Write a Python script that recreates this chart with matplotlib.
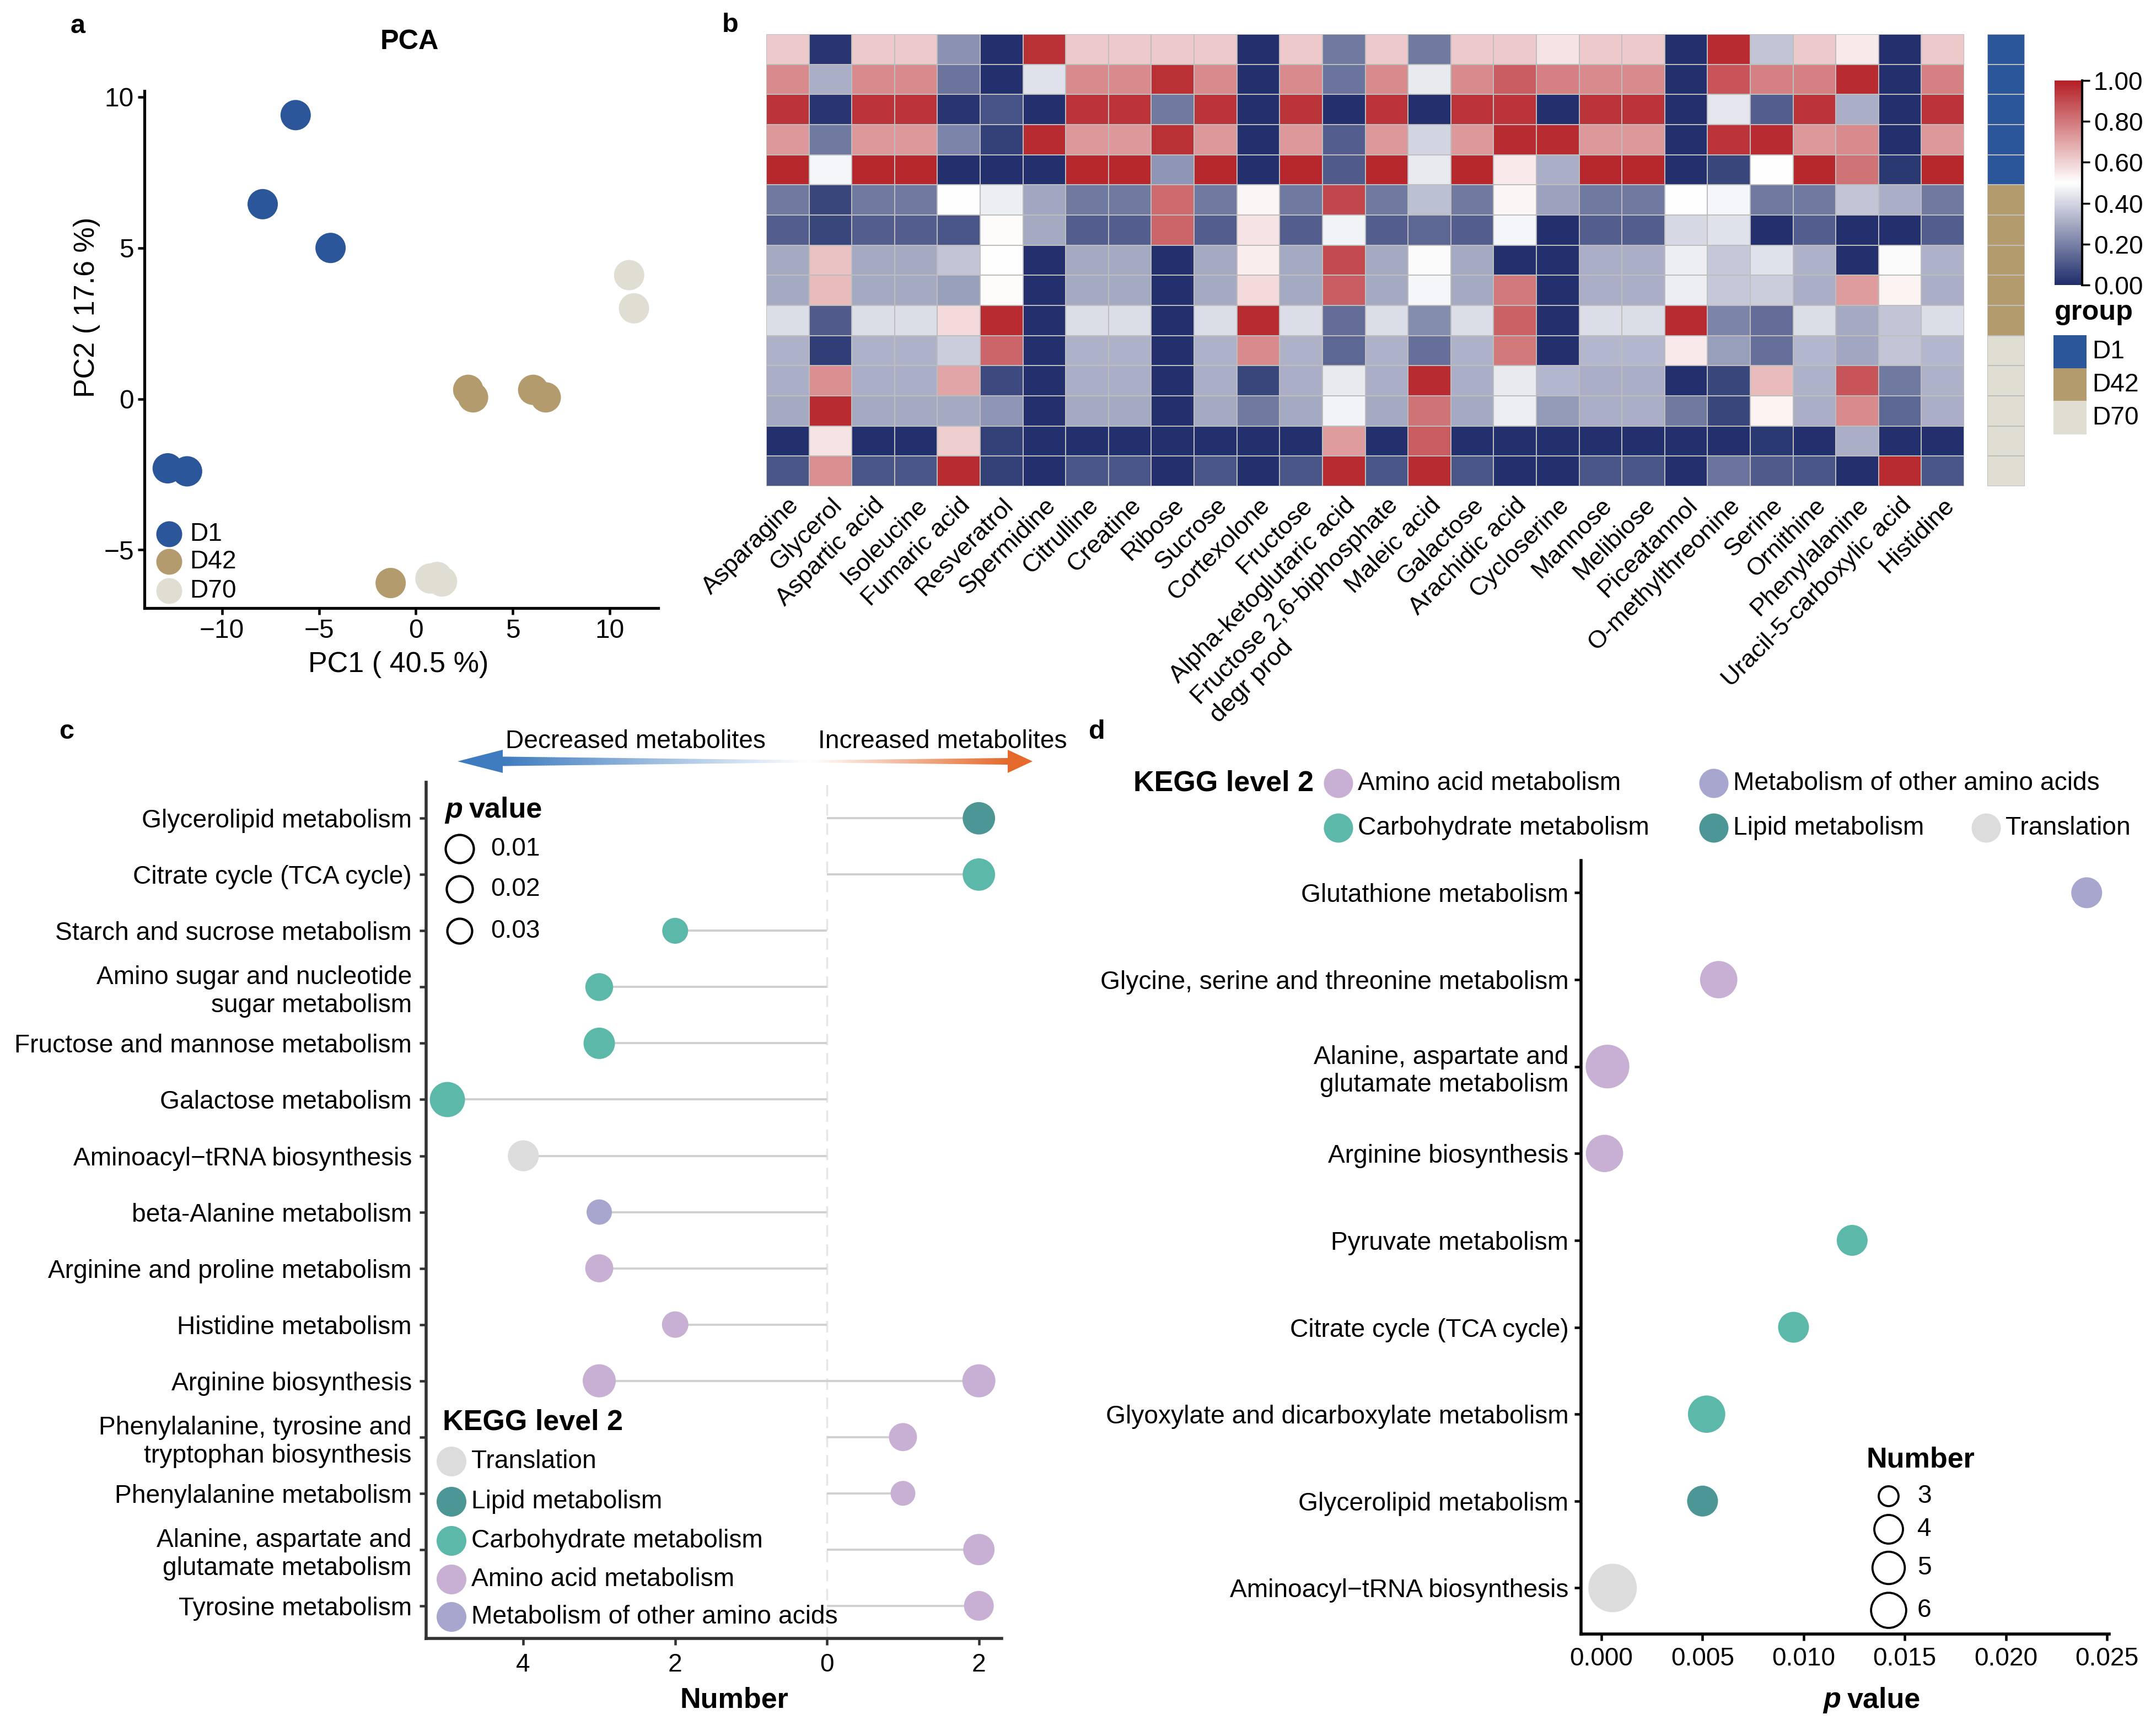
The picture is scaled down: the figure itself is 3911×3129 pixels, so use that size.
import numpy as np
import matplotlib
matplotlib.use("Agg")
from matplotlib import pyplot as plt
from matplotlib.colors import LinearSegmentedColormap, ListedColormap
from matplotlib.patches import Polygon, Rectangle
from matplotlib.ticker import FuncFormatter

plt.rcParams['font.family'] = ['Liberation Sans', 'DejaVu Sans']
plt.rcParams['font.size'] = 13

W, H = 3911, 3129
DPI = 250
FS = 13.3  # base text size

# ---------------- panel a: PCA ----------------
pca_group = ["D1"] * 5 + ["D42"] * 5 + ["D70"] * 5
pc1 = [-6.2, -7.9, -4.4, -12.8, -11.8, 2.7, 2.95, 6.05, 6.7, -1.3, 11.0, 11.25, 0.75, 1.1, 1.35]
pc2 = [9.4, 6.45, 5.0, -2.3, -2.4, 0.3, 0.05, 0.3, 0.05, -6.1, 4.1, 3.0, -5.95, -5.9, -6.05]
groups = ["D1", "D42", "D70"]
group_colors = {"D1": "#2b579a", "D42": "#b39b6e", "D70": "#e0ddd2"}

# ---------------- panel b: heatmap ----------------
metabolites = ["Asparagine", "Glycerol", "Aspartic acid", "Isoleucine", "Fumaric acid",
               "Resveratrol", "Spermidine", "Citrulline", "Creatine", "Ribose", "Sucrose",
               "Cortexolone", "Fructose", "Alpha-ketoglutaric acid",
               "Fructose 2,6-biphosphate\ndegr prod", "Maleic acid", "Galactose",
               "Arachidic acid", "Cycloserine", "Mannose", "Melibiose", "Piceatannol",
               "O-methylthreonine", "Serine", "Ornithine", "Phenylalanine",
               "Uracil-5-carboxylic acid", "Histidine"]
# one list per metabolite, samples D1 x5, D42 x5, D70 x5 (top to bottom)
heat = {
    "Asparagine":   [0.62, 0.76, 0.95, 0.73, 0.98, 0.18, 0.12, 0.30, 0.30, 0.42, 0.32, 0.31, 0.30, 0.01, 0.10],
    "Glycerol":     [0.02, 0.31, 0.02, 0.18, 0.48, 0.06, 0.06, 0.64, 0.65, 0.11, 0.04, 0.75, 0.97, 0.56, 0.75],
    "Aspartic acid": [0.62, 0.76, 0.95, 0.73, 0.98, 0.18, 0.12, 0.30, 0.30, 0.42, 0.32, 0.31, 0.30, 0.01, 0.10],
    "Isoleucine":   [0.62, 0.76, 0.95, 0.73, 0.98, 0.18, 0.12, 0.30, 0.30, 0.42, 0.32, 0.31, 0.30, 0.01, 0.10],
    "Fumaric acid": [0.24, 0.17, 0.02, 0.21, 0.01, 0.50, 0.10, 0.36, 0.27, 0.58, 0.38, 0.70, 0.30, 0.61, 0.97],
    "Resveratrol":  [0.01, 0.01, 0.09, 0.05, 0.01, 0.46, 0.51, 0.50, 0.51, 0.97, 0.84, 0.07, 0.25, 0.05, 0.05],
    "Spermidine":   [0.96, 0.43, 0.01, 0.97, 0.01, 0.29, 0.30, 0.01, 0.01, 0.01, 0.01, 0.01, 0.01, 0.01, 0.01],
    "Citrulline":   [0.62, 0.76, 0.95, 0.73, 0.98, 0.18, 0.12, 0.30, 0.30, 0.42, 0.32, 0.31, 0.30, 0.01, 0.10],
    "Creatine":     [0.62, 0.76, 0.95, 0.73, 0.98, 0.18, 0.12, 0.30, 0.30, 0.42, 0.32, 0.31, 0.30, 0.01, 0.10],
    "Ribose":       [0.62, 0.96, 0.18, 0.96, 0.25, 0.83, 0.84, 0.01, 0.01, 0.01, 0.01, 0.01, 0.01, 0.01, 0.01],
    "Sucrose":      [0.62, 0.76, 0.95, 0.73, 0.98, 0.18, 0.12, 0.30, 0.30, 0.42, 0.32, 0.31, 0.30, 0.01, 0.10],
    "Cortexolone":  [0.01, 0.01, 0.01, 0.01, 0.01, 0.52, 0.56, 0.54, 0.58, 0.97, 0.76, 0.06, 0.18, 0.01, 0.01],
    "Fructose":     [0.62, 0.76, 0.95, 0.73, 0.98, 0.18, 0.12, 0.30, 0.30, 0.42, 0.32, 0.31, 0.30, 0.01, 0.10],
    "Alpha-ketoglutaric acid": [0.18, 0.17, 0.01, 0.12, 0.11, 0.91, 0.47, 0.90, 0.86, 0.15, 0.14, 0.45, 0.47, 0.72, 0.97],
    "Fructose 2,6-biphosphate\ndegr prod": [0.62, 0.76, 0.95, 0.73, 0.98, 0.18, 0.12, 0.30, 0.30, 0.42, 0.32, 0.31, 0.30, 0.01, 0.10],
    "Maleic acid":  [0.18, 0.45, 0.01, 0.40, 0.45, 0.35, 0.14, 0.49, 0.48, 0.23, 0.16, 0.97, 0.81, 0.86, 0.97],
    "Galactose":    [0.62, 0.76, 0.95, 0.73, 0.98, 0.18, 0.12, 0.30, 0.30, 0.42, 0.32, 0.31, 0.30, 0.01, 0.10],
    "Arachidic acid": [0.62, 0.86, 0.95, 0.97, 0.55, 0.52, 0.48, 0.01, 0.80, 0.85, 0.80, 0.45, 0.46, 0.01, 0.01],
    "Cycloserine":  [0.56, 0.78, 0.01, 0.97, 0.31, 0.28, 0.01, 0.01, 0.01, 0.01, 0.01, 0.33, 0.26, 0.01, 0.01],
    "Mannose":      [0.62, 0.76, 0.95, 0.73, 0.98, 0.18, 0.12, 0.31, 0.31, 0.42, 0.33, 0.31, 0.31, 0.01, 0.10],
    "Melibiose":    [0.62, 0.76, 0.95, 0.73, 0.98, 0.18, 0.12, 0.31, 0.31, 0.42, 0.33, 0.31, 0.31, 0.01, 0.10],
    "Piceatannol":  [0.01, 0.01, 0.01, 0.01, 0.01, 0.50, 0.41, 0.46, 0.46, 0.97, 0.55, 0.01, 0.18, 0.01, 0.01],
    "O-methylthreonine": [0.97, 0.88, 0.44, 0.95, 0.06, 0.48, 0.43, 0.37, 0.37, 0.21, 0.27, 0.06, 0.06, 0.01, 0.17],
    "Serine":       [0.36, 0.78, 0.12, 0.97, 0.50, 0.18, 0.01, 0.43, 0.38, 0.15, 0.16, 0.65, 0.53, 0.03, 0.11],
    "Ornithine":    [0.62, 0.78, 0.95, 0.73, 0.98, 0.18, 0.12, 0.32, 0.31, 0.42, 0.33, 0.32, 0.31, 0.01, 0.10],
    "Phenylalanine": [0.55, 0.97, 0.31, 0.76, 0.81, 0.36, 0.01, 0.01, 0.72, 0.30, 0.29, 0.88, 0.76, 0.31, 0.01],
    "Uracil-5-carboxylic acid": [0.01, 0.01, 0.01, 0.01, 0.03, 0.31, 0.01, 0.49, 0.53, 0.36, 0.36, 0.18, 0.14, 0.01, 0.97],
    "Histidine":    [0.62, 0.78, 0.95, 0.73, 0.98, 0.18, 0.12, 0.32, 0.31, 0.42, 0.33, 0.32, 0.31, 0.01, 0.10],
}
sample_group = ["D1"] * 5 + ["D42"] * 5 + ["D70"] * 5
cbar_ticks = [0.0, 0.2, 0.4, 0.6, 0.8, 1.0]

# ---------------- panel c: lollipop ----------------
c_pathways = ["Glycerolipid metabolism", "Citrate cycle (TCA cycle)",
              "Starch and sucrose metabolism", "Amino sugar and nucleotide\nsugar metabolism",
              "Fructose and mannose metabolism", "Galactose metabolism",
              "Aminoacyl\u2212tRNA biosynthesis", "beta-Alanine metabolism",
              "Arginine and proline metabolism", "Histidine metabolism", "Arginine biosynthesis",
              "Phenylalanine, tyrosine and\ntryptophan biosynthesis", "Phenylalanine metabolism",
              "Alanine, aspartate and\nglutamate metabolism", "Tyrosine metabolism"]
c_decreased = [0, 0, 2, 3, 3, 5, 4, 3, 3, 2, 3, 0, 0, 0, 0]
c_increased = [2, 2, 0, 0, 0, 0, 0, 0, 0, 0, 2, 1, 1, 2, 2]
c_p_down = [None, None, 0.043, 0.023, 0.007, 0.002, 0.008, 0.052, 0.021, 0.036, 0.004, None, None, None, None]
c_p_up = [0.005, 0.005, None, None, None, None, None, None, None, None, 0.004, 0.021, 0.062, 0.007, 0.012]
c_class = ["Lipid metabolism", "Carbohydrate metabolism", "Carbohydrate metabolism",
           "Carbohydrate metabolism", "Carbohydrate metabolism", "Carbohydrate metabolism",
           "Translation", "Metabolism of other amino acids", "Amino acid metabolism",
           "Amino acid metabolism", "Amino acid metabolism", "Amino acid metabolism",
           "Amino acid metabolism", "Amino acid metabolism", "Amino acid metabolism"]
p_breaks = [0.01, 0.02, 0.03]

kegg_colors = {"Amino acid metabolism": "#c8b0d4",
               "Metabolism of other amino acids": "#a6a6cf",
               "Carbohydrate metabolism": "#5cb8a8",
               "Lipid metabolism": "#4d9696",
               "Translation": "#dcdcdc"}

# ---------------- panel d: bubble ----------------
d_pathways = ["Glutathione metabolism", "Glycine, serine and threonine metabolism",
              "Alanine, aspartate and\nglutamate metabolism", "Arginine biosynthesis",
              "Pyruvate metabolism", "Citrate cycle (TCA cycle)",
              "Glyoxylate and dicarboxylate metabolism", "Glycerolipid metabolism",
              "Aminoacyl\u2212tRNA biosynthesis"]
d_pvalue = [0.0240, 0.0058, 0.0003, 0.00015, 0.0124, 0.0095, 0.0052, 0.0050, 0.00055]
d_number = [4, 6, 9, 6, 4, 4, 6, 4, 12]
d_class = ["Metabolism of other amino acids", "Amino acid metabolism", "Amino acid metabolism",
           "Amino acid metabolism", "Carbohydrate metabolism", "Carbohydrate metabolism",
           "Carbohydrate metabolism", "Lipid metabolism", "Translation"]
n_breaks = [3, 4, 5, 6]


def px2s(d):
    # marker diameter in output pixels -> scatter size in pt^2
    return (d * 72.0 / DPI) ** 2


def p_dia(p):
    return 55 + 12.6 * (-np.log10(p) - 2)


def n_dia(n):
    return 40 + 16 * np.sqrt(n - 3)


def box(x0, y0, x1, y1):
    return [x0 / W, 1 - y1 / H, (x1 - x0) / W, (y1 - y0) / H]


fig = plt.figure(figsize=(W / DPI, H / DPI), dpi=DPI)

# overlay in pixel coordinates for legends and free text
ov = fig.add_axes([0, 0, 1, 1])
ov.set_xlim(0, W)
ov.set_ylim(H, 0)
ov.axis("off")
ov.set_zorder(10)
ov.patch.set_alpha(0)

# ---- a
ax = fig.add_axes(box(262, 165, 1194, 1103))
for g in groups:
    xs = [x for x, gg in zip(pc1, pca_group) if gg == g]
    ys = [y for y, gg in zip(pc2, pca_group) if gg == g]
    ax.scatter(xs, ys, s=px2s(55), color=group_colors[g], edgecolors="none", zorder=3)
ax.set_xlim(-14, 12.5)
ax.set_ylim(-6.93, 10.2)
ax.set_xticks([-10, -5, 0, 5, 10])
ax.set_yticks([-5, 0, 5, 10])
ax.xaxis.set_major_formatter(FuncFormatter(lambda v, p: f"{int(v)}".replace("-", "\u2212")))
ax.yaxis.set_major_formatter(FuncFormatter(lambda v, p: f"{int(v)}".replace("-", "\u2212")))
for s in ["top", "right"]:
    ax.spines[s].set_visible(False)
for s in ["left", "bottom"]:
    ax.spines[s].set_linewidth(1.5)
ax.tick_params(labelsize=13.8, length=3.5, width=1.3, pad=2)
ov.text(743, 76, "PCA", fontsize=14.5, fontweight="bold", ha="center", va="center")
ov.text(723, 1206, "PC1 ( 40.5 %)", fontsize=15, ha="center", va="center")
ov.text(158, 557, "PC2 ( 17.6 %)", fontsize=15, ha="center", va="center", rotation=90)
for g, yy in zip(groups, [969, 1019, 1072]):
    ov.scatter([307], [yy], s=px2s(47), color=group_colors[g], edgecolors="none")
    ov.text(344, yy, g, fontsize=FS, va="center", ha="left")

# ---- b
M = np.array([heat[m] for m in metabolites]).T  # rows = samples
cmap = LinearSegmentedColormap.from_list("nwr", ["#1f2d6b", "#ffffff", "#b41f24"])
axh = fig.add_axes(box(1390, 62, 3563, 882))
mesh = axh.pcolormesh(M, cmap=cmap, vmin=0, vmax=1, edgecolors="#bdbdbd", linewidth=0.5)
axh.set_xlim(0, M.shape[1])
axh.set_ylim(M.shape[0], 0)
axh.set_yticks([])
axh.set_xticks(np.arange(M.shape[1]) + 0.5)
axh.set_xticklabels(metabolites, rotation=45, ha="right", va="top",
                    rotation_mode="anchor", fontsize=13, multialignment="left")
axh.tick_params(axis="x", length=0, pad=4)
for s in axh.spines.values():
    s.set_visible(False)

axg = fig.add_axes(box(3605, 62, 3673, 882))
gidx = np.array([[groups.index(g)] for g in sample_group])
axg.pcolormesh(gidx, cmap=ListedColormap([group_colors[g] for g in groups]), vmin=-0.5, vmax=2.5,
               edgecolors="#bdbdbd", linewidth=0.5)
axg.set_ylim(len(sample_group), 0)
axg.set_xticks([])
axg.set_yticks([])
for s in axg.spines.values():
    s.set_visible(False)

cax = fig.add_axes(box(3727, 146, 3777, 517))
cb = fig.colorbar(mesh, cax=cax, ticks=cbar_ticks, format="%.2f")
cb.outline.set_visible(False)
cax.plot([1, 1], [0, 1], transform=cax.transAxes, color="black", lw=1.2, clip_on=False)
cax.tick_params(labelsize=FS, length=4, width=1.0, pad=2)

ov.text(3727, 567, "group", fontsize=14.5, fontweight="bold", ha="left", va="center")
for g, (y0, y1) in zip(groups, [(608, 668), (668, 727), (727, 788)]):
    ov.add_patch(Rectangle((3725, y0), 60, y1 - y0, color=group_colors[g], lw=0))
    ov.text(3795, (y0 + y1) / 2, g, fontsize=FS, ha="left", va="center")

# ---- c
axc = fig.add_axes(box(773, 1419, 1817, 2972))
yc = np.arange(len(c_pathways))
axc.axvline(0, color="#e6e6e6", lw=1.0, ls=(0, (6, 4)), zorder=0)
for i in yc:
    lo = -c_decreased[i]
    hi = c_increased[i]
    axc.hlines(i, lo, hi, color="#cfcfcf", lw=1.1, zorder=1)
    col = kegg_colors[c_class[i]]
    if c_decreased[i] > 0:
        axc.scatter([-c_decreased[i]], [i], s=px2s(p_dia(c_p_down[i])), color=col,
                    edgecolors="none", zorder=3)
    if c_increased[i] > 0:
        axc.scatter([c_increased[i]], [i], s=px2s(p_dia(c_p_up[i])), color=col,
                    edgecolors="none", zorder=3)
axc.set_xlim(-5.28, 2.3)
axc.set_ylim(len(c_pathways) - 0.42, -0.64)
axc.set_yticks(yc)
axc.set_yticklabels(c_pathways, fontsize=FS)
axc.set_xticks([-4, -2, 0, 2])
axc.xaxis.set_major_formatter(FuncFormatter(lambda v, p: f"{abs(int(v))}"))
for s in ["top", "right"]:
    axc.spines[s].set_visible(False)
for s in ["left", "bottom"]:
    axc.spines[s].set_linewidth(1.6)
    axc.spines[s].set_color("#333333")
axc.tick_params(labelsize=FS, length=3.5, width=1.3, color="#333333", pad=4)
ov.text(1332, 3084, "Number", fontsize=15, fontweight="bold", ha="center", va="center")

# gradient arrow above panel c
ya = 1381
blue = np.array([0.243, 0.486, 0.749])
orange = np.array([0.894, 0.412, 0.165])
white = np.array([1.0, 1.0, 1.0])
ov.add_patch(Polygon([[830, ya], [912, ya - 21], [912, ya + 21]], closed=True, color=blue, lw=0))
ov.add_patch(Polygon([[1873, ya], [1828, ya - 21], [1828, ya + 21]], closed=True, color=orange, lw=0))
mid = 1470
nseg = 120
for xa, xb, ha_, hb_, ca, cb_ in [(912, mid, 8.5, 2.0, blue, white), (mid, 1828, 2.0, 6.0, white, orange)]:
    xs = np.linspace(xa, xb, nseg + 1)
    hs = np.linspace(ha_, hb_, nseg + 1)
    for k in range(nseg):
        t = (k + 0.5) / nseg
        colr = ca * (1 - t) + cb_ * t
        ov.add_patch(Polygon([[xs[k], ya - hs[k]], [xs[k + 1] + 0.8, ya - hs[k + 1]],
                              [xs[k + 1] + 0.8, ya + hs[k + 1]], [xs[k], ya + hs[k]]],
                             closed=True, color=colr, lw=0))
ov.text(1153, 1345, "Decreased metabolites", fontsize=FS, ha="center", va="center")
ov.text(1710, 1345, "Increased metabolites", fontsize=FS, ha="center", va="center")

# p value legend (panel c)
ov.text(807, 1469, "p", fontsize=15, fontweight="bold", fontstyle="italic", ha="left", va="center")
ov.text(851, 1469, "value", fontsize=15, fontweight="bold", ha="left", va="center")
for p, yy in zip(p_breaks, [1540, 1613, 1689]):
    ov.scatter([834], [yy], s=px2s(p_dia(p) - 4), facecolors="none", edgecolors="black", linewidths=1.2)
    ov.text(890, yy, f"{p:.2f}", fontsize=FS, ha="left", va="center")

# KEGG legend (panel c)
ov.text(803, 2580, "KEGG level 2", fontsize=15, fontweight="bold", ha="left", va="center")
c_leg = ["Translation", "Lipid metabolism", "Carbohydrate metabolism",
         "Amino acid metabolism", "Metabolism of other amino acids"]
for name, yy in zip(c_leg, [2651, 2724, 2795, 2865, 2933]):
    ov.scatter([819], [yy], s=px2s(54), color=kegg_colors[name], edgecolors="none")
    ov.text(855, yy, name, fontsize=FS, ha="left", va="center")

# ---- d
axd = fig.add_axes(box(2868, 1561, 3826, 2964))
yd = np.arange(len(d_pathways))
for i in yd:
    axd.scatter([d_pvalue[i]], [i], s=px2s(n_dia(d_number[i])), color=kegg_colors[d_class[i]],
                edgecolors="none", zorder=3, clip_on=False)
axd.set_xlim(-0.00101, 0.02511)
axd.set_ylim(len(d_pathways) - 0.47, -0.37)
axd.set_yticks(yd)
axd.set_yticklabels(d_pathways, fontsize=FS)
axd.set_xticks([0, 0.005, 0.01, 0.015, 0.02, 0.025])
axd.xaxis.set_major_formatter(FuncFormatter(lambda v, p: f"{v:.3f}"))
for s in ["top", "right"]:
    axd.spines[s].set_visible(False)
for s in ["left", "bottom"]:
    axd.spines[s].set_linewidth(1.6)
axd.tick_params(labelsize=FS, length=3.5, width=1.3, pad=3)
ov.text(3307, 3084, "p", fontsize=15, fontweight="bold", fontstyle="italic", ha="left", va="center")
ov.text(3351, 3084, "value", fontsize=15, fontweight="bold", ha="left", va="center")

# KEGG legend (panel d, top)
ov.text(2056, 1421, "KEGG level 2", fontsize=15, fontweight="bold", ha="left", va="center")
d_leg = [("Amino acid metabolism", 2428, 1421), ("Metabolism of other amino acids", 3109, 1421),
         ("Carbohydrate metabolism", 2428, 1502), ("Lipid metabolism", 3109, 1502),
         ("Translation", 3603, 1502)]
for name, xx, yy in d_leg:
    ov.scatter([xx], [yy], s=px2s(53), color=kegg_colors[name], edgecolors="none")
    ov.text(xx + 35, yy, name, fontsize=FS, ha="left", va="center")

# Number legend (panel d)
ov.text(3484, 2648, "Number", fontsize=15, fontweight="bold", ha="center", va="center")
for n, yy in zip(n_breaks, [2714, 2774, 2844, 2921]):
    ov.scatter([3426], [yy], s=px2s(n_dia(n) - 4), facecolors="none", edgecolors="black", linewidths=1.1)
    ov.text(3478, yy, str(n), fontsize=FS, ha="left", va="center")

# panel letters
for lab, xx, yy in [("a", 141, 48), ("b", 1325, 45), ("c", 121, 1327), ("d", 1990, 1327)]:
    ov.text(xx, yy, lab, fontsize=14, fontweight="bold", ha="center", va="center")

fig.savefig("out.png", dpi=DPI)
